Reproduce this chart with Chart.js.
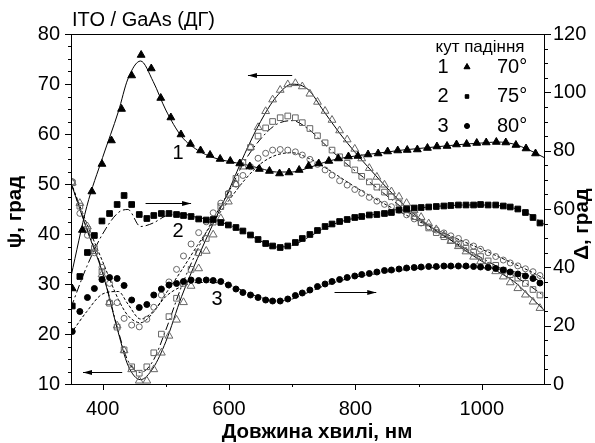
<!DOCTYPE html>
<html>
<head>
<meta charset="utf-8">
<script src="https://cdn.jsdelivr.net/npm/chart.js@4.4.1/dist/chart.umd.min.js"></script>
<style>
html, body { margin: 0; padding: 0; background: #fff; }
</style>
</head>
<body>
<canvas id="miGrafico" width="595" height="443"></canvas>
<script>
// wavelength grids (nm)
const wlA = [352,368,383,399,414,430,446,461,477,492,508,524,539,555,570,586,602,617,633,648,664,680,695,711,726,742,758,773,789,804,820,836,851,867,882,898,914,929,945,960,976,992,1007,1023,1038,1054,1070,1085];
const wlB = [352,364,376,387,399,411,423,434,446,458,470,481,493,505,517,528,540,552,564,575,587,599,611,622,634,646,658,669,681,693,705,716,728,740,752,763,775,787,799,810,822,834,846,857,869,881,893,904,916,928,940,951,963,975,987,998,1010,1022,1034,1045,1057,1069,1081,1092];
const wlFit = [350,375,400,425,440,460,480,500,525,550,575,600,625,650,675,700,725,750,775,800,825,850,875,900,925,950,975,1000,1025,1050,1075,1100];

// psi (left axis), measured
const psi70 = [29.1,40.8,48.5,54.0,58.7,65.0,71.7,75.8,73.1,67.2,63.3,59.9,58.0,56.7,55.8,55.0,54.6,54.1,53.5,53.0,52.6,52.1,52.3,52.8,53.6,54.1,54.6,55.1,55.5,55.6,55.9,56.1,56.5,56.7,56.8,56.9,57.2,57.5,57.6,57.9,58.0,58.2,58.3,58.4,58.3,57.8,57.1,56.1];
const psi75 = [25.6,31.5,36.3,39.7,42.6,44.1,45.9,47.7,45.9,43.9,
  43.1,43.7,44.1,44.1,43.9,43.7,43.5,43.0,42.8,42.9,
  42.3,41.8,41.3,40.6,39.8,38.9,38.1,37.6,37.3,37.6,
  38.3,39.1,39.9,40.7,41.5,42.0,42.5,42.9,43.3,43.5,
  43.8,43.9,44.1,44.3,44.8,45.0,45.2,45.3,45.4,45.5,
  45.6,45.7,45.8,45.8,45.8,45.9,45.8,45.8,45.6,45.4,
  45.0,44.3,43.3,42.2];
const psi80 = [20.5,24.5,27.3,29.1,30.9,31.3,31.1,29.7,26.8,25.3,
  25.9,27.8,29.0,29.8,30.1,30.5,30.8,30.7,30.8,30.7,
  30.5,29.8,29.0,28.3,27.8,27.3,26.8,26.6,26.6,27.0,
  27.7,28.2,28.8,29.5,30.0,30.5,30.9,31.3,31.6,31.9,
  32.1,32.4,32.7,32.8,33.0,33.2,33.3,33.4,33.5,33.5,
  33.6,33.6,33.6,33.6,33.5,33.4,33.3,33.1,32.8,32.4,
  32.0,31.6,31.1,30.2];

// delta (right axis), measured
const del70 = [69,62,54,45.5,37.5,28,20,11.5,5.0,1.1,
  1.1,5.0,10.7,16.5,22.0,28.0,33.6,39.6,45.6,51.2,
  56.8,62.5,68.5,74.5,81.2,88.0,93.5,97.5,100.8,102.7,
  103.1,102.0,99.5,96.7,93.6,90.5,86.9,83.8,80.6,77.3,
  74.0,71.0,68.3,66.0,64.2,62.0,59.6,57.2,55.0,53.0,
  51.0,49.0,47.2,45.4,43.6,42.0,40.3,38.6,36.8,34.8,
  32.8,30.6,28.2,26.0];
const del75 = [69,61,53,46.5,38.5,27.7,19.5,11.7,5.9,3.7,
  5.9,10.7,17.1,23.1,29.4,34.5,39.3,45.0,49.9,55.5,
  60.8,65.0,70.5,76.0,81.1,85.0,87.8,90.0,91.3,91.9,
  91.3,89.6,87.6,85.1,82.7,80.2,77.9,75.7,73.4,71.2,
  69.3,67.5,65.8,64.2,62.0,59.7,57.4,55.3,53.5,51.9,
  50.5,49.3,48.0,46.6,45.2,43.7,42.2,40.7,39.0,37.5,
  36.3,34.5,32.4,30.5];
const del80 = [69.4,58.5,51,45,40,34.5,27.9,22.5,20.2,19.6,
  22.2,26.3,30.5,35.0,39.3,43.9,48.0,51.9,55.6,58.7,
  62.0,65.4,68.5,71.5,74.5,77.4,79.1,80.2,80.4,80.2,
  79.6,78.5,77.0,75.3,73.4,71.6,69.7,68.2,66.7,65.4,
  64.0,62.7,61.6,60.8,59.6,58.0,56.6,55.2,53.9,52.8,
  51.8,50.8,49.9,48.5,47.3,46.2,45.0,43.7,42.5,41.5,
  40.5,39.5,38.5,37.2];

// calculated curves
const fitPsi70 = [31.5,45.5,55.3,64.5,71,74.6,70.5,64.8,59.5,56.8,55.3,54.5,53.9,53.1,52.4,52.4,53.2,54.3,55.1,55.6,56.0,56.4,56.8,57.1,57.4,57.7,58.0,58.2,58.4,58.0,56.8,55.2];
const fitPsi75 = [25.3,33.5,40,44.3,44.9,41.5,42.2,43.6,44.0,43.3,42.8,41.8,40.3,38.6,37.4,37.7,39.3,41.1,42.4,43.2,43.8,44.2,44.8,45.2,45.5,45.7,45.8,45.8,45.7,45.2,44.0,41.8];
const fitPsi80 = [20.1,24.5,28,28.5,26,23,24.5,27.5,29.5,30.3,30.3,29.8,28.5,27.3,26.6,27.0,28.3,29.6,30.6,31.4,31.9,32.4,32.8,33.1,33.3,33.4,33.4,33.3,33.0,32.5,31.6,30.0];
const fitDel70 = [69,53,38,17.5,6.5,1.5,5.5,14.5,30,43,55,66.5,79,90,98.5,102.8,101,93.5,86,79.3,73.2,67.2,61.7,57.0,53.0,49.5,45.6,42.1,38.6,35.3,30.3,25];
const fitDel75 = [69,53.5,38.5,18,8,4,8,18.5,33.5,46,56.5,66,76.5,84,89,90.3,87.5,82.5,77.5,73,68.8,64.5,60.3,56.5,52.8,49.5,46.3,43.2,40.2,37.2,33.8,30];
const fitDel80 = [69,55,42,29,23.5,21,24.5,31,39,47.5,55.5,63,70,75.5,78.5,79.3,77.5,74.5,71,67.5,64.3,61.3,58.5,55.8,53.2,50.8,48.5,46.2,43.8,41.3,38.8,36];

const xTicks = [400, 600, 800, 1000];
const legendRows = [['1', 'triangle', '70°'], ['2', 'rect', '75°'], ['3', 'circle', '80°']];

const FONT = "'Liberation Sans', Arial, sans-serif";
const gris = '#666666';

function pts(xs, ys) {
    return xs.map((x, i) => ({x: x, y: ys[i]}));
}

function fitLine(ys, axis, dash) {
    return {
        data: pts(wlFit, ys), yAxisID: axis, showLine: true, pointRadius: 0,
        borderColor: '#000', borderWidth: 1, borderDash: dash,
        cubicInterpolationMode: 'monotone', order: 2
    };
}

function marks(xs, ys, axis, style, r, filled) {
    return {
        data: pts(xs, ys), yAxisID: axis, showLine: false,
        pointStyle: style, pointRadius: r, pointHoverRadius: r,
        backgroundColor: filled ? '#000' : 'rgba(0,0,0,0)',
        borderColor: filled ? '#000' : gris, borderWidth: 1, order: 1
    };
}

function arrow(ctx, x1, y1, x2, y2) {
    ctx.beginPath();
    ctx.moveTo(x1, y1);
    ctx.lineTo(x2, y2);
    ctx.stroke();
    const d = Math.sign(x2 - x1);
    ctx.beginPath();
    ctx.moveTo(x2, y2);
    ctx.lineTo(x2 - d * 9, y2 - 2.5);
    ctx.lineTo(x2 - d * 9, y2 + 2.5);
    ctx.closePath();
    ctx.fill();
}

const decor = {
    id: 'decor',
    afterDraw(chart) {
        const ctx = chart.ctx;
        const a = chart.chartArea;
        const sx = chart.scales.x, sy = chart.scales.y, sy1 = chart.scales.y1;
        ctx.save();
        ctx.strokeStyle = '#000';
        ctx.fillStyle = '#000';
        ctx.lineWidth = 1;
        // frame
        ctx.strokeRect(a.left + 0.5, a.top + 0.5, a.right - a.left - 1, a.bottom - a.top);
        // ticks
        ctx.beginPath();
        for (let v = 10; v <= 80; v += 2.5) {
            const p = Math.round(sy.getPixelForValue(v)) + 0.5;
            const len = v % 10 === 0 ? 6 : 3;
            ctx.moveTo(a.left, p); ctx.lineTo(a.left - len, p);
        }
        for (let v = 0; v <= 120; v += 5) {
            const p = Math.round(sy1.getPixelForValue(v)) + 0.5;
            const len = v % 20 === 0 ? 6 : 3;
            ctx.moveTo(a.right, p); ctx.lineTo(a.right + len, p);
        }
        for (let v = 400; v <= 1000; v += 100) {
            const p = Math.round(sx.getPixelForValue(v)) + 0.5;
            const len = v % 200 === 0 ? 6 : 3;
            ctx.moveTo(p, a.bottom); ctx.lineTo(p, a.bottom + len);
        }
        ctx.stroke();
        // arrows
        arrow(ctx, sx.getPixelForValue(700), sy.getPixelForValue(71.7), sx.getPixelForValue(630), sy.getPixelForValue(71.7));
        arrow(ctx, sx.getPixelForValue(468), sy.getPixelForValue(46.1), sx.getPixelForValue(540), sy.getPixelForValue(46.1));
        arrow(ctx, sx.getPixelForValue(767), sy.getPixelForValue(28.3), sx.getPixelForValue(833), sy.getPixelForValue(28.3));
        arrow(ctx, sx.getPixelForValue(431), sy.getPixelForValue(12.3), sx.getPixelForValue(369), sy.getPixelForValue(12.3));
        // texts
        ctx.textBaseline = 'middle';
        ctx.textAlign = 'left';
        ctx.font = '20px ' + FONT;
        ctx.fillText('ITO / GaAs (ДГ)', 72, 20);
        ctx.textAlign = 'center';
        ctx.fillText('1', 178, 153);
        ctx.fillText('2', 178, 231);
        ctx.fillText('3', 217, 299);
        // legend
        ctx.font = '17px ' + FONT;
        ctx.fillText('кут падіння', 480, 47);
        legendRows.forEach((row, i) => {
            const y = 67 + i * 29.5;
            ctx.font = '20px ' + FONT;
            ctx.textAlign = 'center';
            ctx.fillText(row[0], 443, y);
            ctx.textAlign = 'left';
            ctx.fillText(row[2], 497, y);
            Chart.helpers.drawPoint(ctx, {pointStyle: row[1], radius: row[1] === 'triangle' ? 3.5 : 2.5, rotation: 0, borderWidth: 1}, 467, y);
            ctx.fill();
        });
        // axis titles
        ctx.font = 'bold 20.5px ' + FONT;
        ctx.textAlign = 'center';
        ctx.fillText('Довжина хвилі, нм', 317, 432);
        ctx.save();
        ctx.translate(15, 212);
        ctx.rotate(-Math.PI / 2);
        ctx.fillText('ψ, град', 0, 0);
        ctx.restore();
        ctx.save();
        ctx.translate(582, 224);
        ctx.rotate(-Math.PI / 2);
        ctx.fillText('Δ, град', 0, 0);
        ctx.restore();
        ctx.restore();
    }
};

const tickFont = {family: FONT, size: 20};
const plain = v => String(v);

const grafico = new Chart(document.getElementById('miGrafico'), {
    type: 'scatter',
    data: {
        datasets: [
            fitLine(fitPsi70, 'y', []),
            fitLine(fitPsi75, 'y', [8, 3, 2, 3]),
            fitLine(fitPsi80, 'y', [3, 2]),
            fitLine(fitDel70, 'y1', []),
            fitLine(fitDel75, 'y1', [8, 3, 2, 3]),
            fitLine(fitDel80, 'y1', [3, 2]),
            marks(wlA, psi70, 'y', 'triangle', 4.5, true),
            marks(wlB, psi75, 'y', 'rect', 4, true),
            marks(wlB, psi80, 'y', 'circle', 3, true),
            marks(wlB, del70, 'y1', 'triangle', 4.5, false),
            marks(wlB, del75, 'y1', 'rect', 4, false),
            marks(wlB, del80, 'y1', 'circle', 3, false)
        ]
    },
    options: {
        responsive: false,
        animation: false,
        devicePixelRatio: 1,
        layout: {padding: {top: 34, left: 0, right: 0, bottom: 0}},
        plugins: {legend: {display: false}, tooltip: {enabled: false}, title: {display: false}},
        scales: {
            x: {
                type: 'linear', min: 350, max: 1100,
                grid: {display: false, drawTicks: false}, border: {display: false},
                ticks: {font: tickFont, color: '#000', padding: 13, maxRotation: 0, callback: plain},
                afterBuildTicks: s => { s.ticks = xTicks.map(v => ({value: v})); },
                afterFit: s => { s.height = 59; }
            },
            y: {
                position: 'left', min: 10, max: 80,
                grid: {display: false, drawTicks: false}, border: {display: false},
                ticks: {font: tickFont, color: '#000', stepSize: 10, padding: 11, callback: plain},
                afterFit: s => { s.width = 71; }
            },
            y1: {
                position: 'right', min: 0, max: 120,
                grid: {display: false, drawTicks: false}, border: {display: false},
                ticks: {font: tickFont, color: '#000', stepSize: 20, padding: 8, callback: plain},
                afterFit: s => { s.width = 50; }
            }
        }
    },
    plugins: [decor]
});
</script>
</body>
</html>
